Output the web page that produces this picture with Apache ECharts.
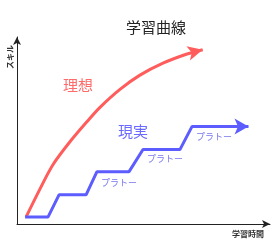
<!DOCTYPE html>
<html><head><meta charset="utf-8">
<script src="https://cdn.jsdelivr.net/npm/echarts@6/dist/echarts.min.js"></script>
<style>html,body{margin:0;padding:0;background:#fff}#c{width:280px;height:248px}</style>
</head><body><div id="c"></div>
<script>
// x: learning time (0-100), y: skill (0-100)
const idealX = [3.6, 9.1, 14.2, 21.0, 27.7, 32.8, 40.7, 48.6, 57.7, 67.2, 73.4];
const idealY = [3.8, 18.8, 31.7, 44.1, 54.8, 62.4, 72.0, 79.6, 86.0, 90.9, 93.2];
const realX = [3.2, 12.3, 16.6, 27.3, 31.6, 44.3, 49.8, 64.4, 69.2, 91.5];
const realY = [3.8, 3.8, 15.6, 15.6, 28, 28, 39.8, 39.8, 52.2, 52.2];
const plateauLabels = ['プラトー', 'プラトー', 'プラトー'];
const FONT = '"Noto Sans CJK JP", sans-serif';

const chart = echarts.init(document.getElementById('c'), null, {renderer: 'canvas'});
function pts(xs, ys, arrowSize, rot) {
  return xs.map((x, i) => {
    if (i === xs.length - 1) {
      return {value: [x, ys[i]], symbol: 'arrow', symbolSize: arrowSize, symbolRotate: rot};
    }
    return {value: [x, ys[i]], symbol: 'none'};
  });
}
chart.setOption({
  animation: false,
  title: {text: '学習曲線', left: 151, top: 15, textAlign: 'center',
    textStyle: {fontFamily: FONT, fontSize: 15, fontWeight: 'normal', color: '#222'}},
  grid: {left: 17, right: 10, top: 37, bottom: 24},
  xAxis: {type: 'value', min: 0, max: 100, splitLine: {show: false},
    axisTick: {show: false}, axisLabel: {show: false},
    axisLine: {show: true, symbol: ['none', 'arrow'], symbolSize: [6, 8], lineStyle: {color: '#222', width: 1}}},
  yAxis: {type: 'value', min: 0, max: 100, splitLine: {show: false},
    axisTick: {show: false}, axisLabel: {show: false},
    axisLine: {show: true, symbol: ['none', 'arrow'], symbolSize: [6, 8], lineStyle: {color: '#222', width: 1}}},
  series: [
    {type: 'line', smooth: 0.3, data: pts(idealX, idealY, [11, 15], -76),
      showSymbol: true, itemStyle: {color: '#ff5c5c'},
      lineStyle: {color: '#ff5c5c', width: 3}},
    {type: 'line', data: pts(realX, realY, [12, 14], -90),
      showSymbol: true, itemStyle: {color: '#5c5cff'},
      lineStyle: {color: '#5c5cff', width: 3}}
  ],
  graphic: [
    {type: 'text', x: 78, y: 85, style: {text: '理想', font: '15px ' + FONT, fill: '#ff6a6a', align: 'center', verticalAlign: 'middle'}},
    {type: 'text', x: 133, y: 131, style: {text: '現実', font: '15px ' + FONT, fill: '#6a6aff', align: 'center', verticalAlign: 'middle'}},
    {type: 'text', x: 214, y: 137, style: {text: plateauLabels[2], font: '9px ' + FONT, fill: '#7777ee', align: 'center', verticalAlign: 'middle'}},
    {type: 'text', x: 165, y: 159, style: {text: plateauLabels[1], font: '9px ' + FONT, fill: '#7777ee', align: 'center', verticalAlign: 'middle'}},
    {type: 'text', x: 119, y: 183, style: {text: plateauLabels[0], font: '9px ' + FONT, fill: '#7777ee', align: 'center', verticalAlign: 'middle'}},
    {type: 'text', x: 248, y: 234, style: {text: '学習時間', font: 'bold 8px ' + FONT, fill: '#333', align: 'center', verticalAlign: 'middle'}},
    {type: 'text', x: 10, y: 57, rotation: Math.PI / 2, style: {text: 'スキル', font: 'bold 8px ' + FONT, fill: '#333', align: 'center', verticalAlign: 'middle'}}
  ]
});
</script></body></html>
